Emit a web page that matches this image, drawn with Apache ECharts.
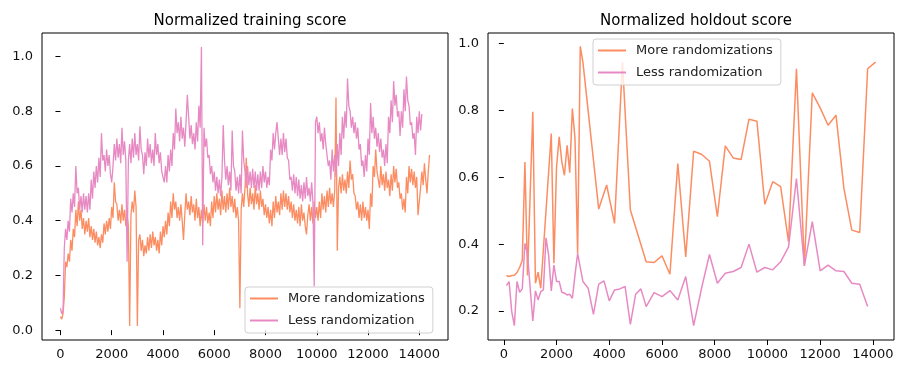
<!DOCTYPE html>
<html>
<head>
<meta charset="utf-8">
<script src="https://cdn.jsdelivr.net/npm/echarts@6/dist/echarts.min.js"></script>
<style>
html, body { margin: 0; padding: 0; background: #fff; }
#chart { width: 907px; height: 374px; }
</style>
</head>
<body>
<div id="chart"></div>
<script>
// names
const seriesNames = ["More randomizations", "Less randomization"];
const colors = ["#fc8d62", "#e78ac3"];

// training score, one value every 50 steps starting at 0
const trainStep = 50;
const trainMore = [
  0.05, 0.04, 0.06, 0.12, 0.25, 0.23, 0.28, 0.25, 0.33, 0.29, 0.37, 0.34, 0.44, 0.38, 0.47, 0.40, 0.44, 0.37, 0.41, 0.35,
  0.40, 0.36, 0.41, 0.34, 0.38, 0.33, 0.37, 0.32, 0.36, 0.31, 0.34, 0.30, 0.35, 0.32, 0.39, 0.35, 0.40, 0.36, 0.41, 0.37,
  0.45, 0.41, 0.54, 0.47, 0.46, 0.40, 0.44, 0.39, 0.46, 0.40, 0.44, 0.38, 0.42, 0.38, 0.015, 0.42, 0.47, 0.43, 0.51, 0.45,
  0.015, 0.33, 0.35, 0.29, 0.33, 0.27, 0.31, 0.28, 0.34, 0.29, 0.35, 0.30, 0.36, 0.31, 0.34, 0.29, 0.33, 0.28, 0.36, 0.31,
  0.38, 0.34, 0.40, 0.35, 0.43, 0.38, 0.47, 0.41, 0.50, 0.44, 0.47, 0.41, 0.45, 0.40, 0.46, 0.40, 0.33, 0.42, 0.50, 0.44,
  0.47, 0.42, 0.49, 0.43, 0.46, 0.40, 0.48, 0.41, 0.45, 0.38, 0.44, 0.39, 0.46, 0.40, 0.45, 0.39, 0.43, 0.38, 0.47, 0.41,
  0.49, 0.43, 0.50, 0.44, 0.48, 0.42, 0.51, 0.44, 0.49, 0.43, 0.50, 0.44, 0.52, 0.45, 0.49, 0.43, 0.48, 0.41, 0.45, 0.40,
  0.08, 0.44, 0.50, 0.45, 0.52, 0.63, 0.50, 0.45, 0.52, 0.46, 0.50, 0.44, 0.53, 0.46, 0.50, 0.44, 0.51, 0.45, 0.48, 0.42,
  0.46, 0.41, 0.45, 0.39, 0.44, 0.38, 0.47, 0.41, 0.49, 0.43, 0.47, 0.42, 0.50, 0.44, 0.51, 0.45, 0.50, 0.44, 0.49, 0.43,
  0.47, 0.41, 0.46, 0.40, 0.44, 0.39, 0.45, 0.38, 0.46, 0.40, 0.43, 0.38, 0.35, 0.42, 0.46, 0.40, 0.45, 0.39, 0.47, 0.41,
  0.45, 0.40, 0.47, 0.41, 0.50, 0.44, 0.49, 0.43, 0.51, 0.45, 0.52, 0.46, 0.50, 0.45, 0.51, 0.85, 0.29, 0.52, 0.56, 0.50,
  0.57, 0.51, 0.55, 0.50, 0.58, 0.52, 0.62, 0.55, 0.57, 0.50, 0.49, 0.44, 0.47, 0.41, 0.46, 0.40, 0.47, 0.41, 0.45, 0.40,
  0.44, 0.37, 0.50, 0.45, 0.60, 0.56, 0.66, 0.58, 0.58, 0.52, 0.60, 0.53, 0.57, 0.51, 0.58, 0.52, 0.55, 0.49, 0.57, 0.51,
  0.60, 0.54, 0.59, 0.52, 0.54, 0.48, 0.50, 0.44, 0.48, 0.43, 0.56, 0.50, 0.60, 0.54, 0.59, 0.53, 0.58, 0.52, 0.56, 0.42,
  0.42, 0.52, 0.58, 0.53, 0.61, 0.55, 0.50, 0.58, 0.64
];
const trainLess = [
  0.08, 0.06, 0.07, 0.30, 0.37, 0.33, 0.40, 0.36, 0.48, 0.43, 0.50, 0.45, 0.60, 0.50, 0.52, 0.44, 0.49, 0.43, 0.50, 0.44,
  0.49, 0.43, 0.50, 0.44, 0.55, 0.48, 0.58, 0.52, 0.60, 0.54, 0.63, 0.56, 0.72, 0.62, 0.64, 0.58, 0.66, 0.60, 0.64, 0.57,
  0.54, 0.60, 0.68, 0.62, 0.70, 0.63, 0.68, 0.61, 0.74, 0.64, 0.69, 0.62, 0.25, 0.62, 0.68, 0.61, 0.70, 0.63, 0.72, 0.64,
  0.68, 0.62, 0.745, 0.66, 0.64, 0.57, 0.65, 0.60, 0.70, 0.63, 0.68, 0.61, 0.66, 0.60, 0.72, 0.64, 0.68, 0.61, 0.65, 0.58,
  0.58, 0.54, 0.60, 0.54, 0.64, 0.58, 0.66, 0.60, 0.72, 0.66, 0.81, 0.72, 0.76, 0.69, 0.78, 0.70, 0.74, 0.67, 0.76, 0.86,
  0.78, 0.70, 0.75, 0.68, 0.72, 0.66, 0.76, 0.69, 0.82, 0.74, 1.035, 0.31, 0.74, 0.67, 0.70, 0.63, 0.64, 0.57, 0.60, 0.54,
  0.58, 0.51, 0.56, 0.50, 0.55, 0.49, 0.56, 0.75, 0.62, 0.55, 0.60, 0.53, 0.58, 0.51, 0.73, 0.60, 0.58, 0.51, 0.56, 0.50,
  0.57, 0.50, 0.73, 0.62, 0.58, 0.52, 0.60, 0.53, 0.58, 0.52, 0.59, 0.52, 0.58, 0.51, 0.57, 0.51, 0.58, 0.52, 0.60, 0.54,
  0.58, 0.52, 0.56, 0.53, 0.66, 0.62, 0.72, 0.66, 0.72, 0.76, 0.70, 0.64, 0.70, 0.64, 0.72, 0.65, 0.70, 0.63, 0.62, 0.55,
  0.56, 0.51, 0.57, 0.50, 0.56, 0.49, 0.55, 0.48, 0.53, 0.47, 0.54, 0.48, 0.56, 0.49, 0.52, 0.47, 0.54, 0.47, 0.16, 0.76,
  0.78, 0.72, 0.76, 0.69, 0.72, 0.66, 0.74, 0.68, 0.68, 0.60, 0.62, 0.55, 0.66, 0.58, 0.64, 0.56, 0.68, 0.60, 0.72, 0.64,
  0.78, 0.70, 0.80, 0.74, 0.92, 0.82, 0.80, 0.74, 0.78, 0.72, 0.76, 0.70, 0.74, 0.66, 0.68, 0.60, 0.62, 0.56, 0.64, 0.58,
  0.70, 0.64, 0.83, 0.72, 0.78, 0.70, 0.74, 0.67, 0.72, 0.65, 0.70, 0.63, 0.66, 0.60, 0.68, 0.61, 0.78, 0.72, 0.84, 0.76,
  0.91, 0.82, 0.86, 0.78, 0.80, 0.71, 0.80, 0.74, 0.88, 0.80, 0.927, 0.84, 0.82, 0.75, 0.76, 0.70, 0.72, 0.64, 0.78, 0.72,
  0.80, 0.73, 0.79
];

// holdout score
const holdMoreX = [
  100, 200, 300, 400, 500, 600, 700, 800, 900, 1100,
  1200, 1300, 1400, 1800, 1900, 2000, 2100, 2200, 2300, 2400,
  2500, 2600, 2700, 2800, 2900, 3000, 3600, 3900, 4200, 4500,
  4800, 5400, 5700, 6000, 6300, 6600, 6900, 7200, 7500, 7800,
  8100, 8400, 8700, 9000, 9300, 9600, 9900, 10200, 10500, 10800,
  11100, 11400, 11700, 12000, 12300, 12600, 12900, 13200, 13500, 13800,
  14100
];
const holdMore = [
  0.306, 0.303, 0.306, 0.307, 0.315, 0.33, 0.352, 0.646, 0.306, 0.796,
  0.283, 0.316, 0.268, 0.731, 0.343, 0.631, 0.721, 0.646, 0.606, 0.696,
  0.614, 0.806, 0.716, 0.372, 0.992, 0.945, 0.505, 0.577, 0.462, 0.945,
  0.502, 0.347, 0.345, 0.365, 0.31, 0.641, 0.362, 0.678, 0.669, 0.648,
  0.482, 0.694, 0.658, 0.653, 0.774, 0.768, 0.519, 0.587, 0.572, 0.407,
  0.925, 0.335, 0.853, 0.808, 0.756, 0.786, 0.567, 0.442, 0.435, 0.925,
  0.945
];
const holdLessX = [
  100, 200, 300, 400, 500, 600, 700, 800, 900, 1000,
  1100, 1200, 1300, 1400, 1500, 1600, 1700, 1800, 1900, 2000,
  2100, 2200, 2300, 2400, 2500, 2600, 2700, 2800, 3000, 3200,
  3400, 3600, 3800, 4000, 4200, 4400, 4600, 4800, 5000, 5200,
  5400, 5700, 6000, 6300, 6600, 6900, 7200, 7500, 7800, 8100,
  8400, 8700, 9000, 9300, 9600, 9900, 10200, 10500, 10800, 11100,
  11400, 11700, 12000, 12300, 12600, 12900, 13200, 13500, 13800
];
const holdLess = [
  0.276, 0.288, 0.198, 0.156, 0.288, 0.256, 0.266, 0.402, 0.372, 0.268,
  0.17, 0.26, 0.233, 0.258, 0.263, 0.419, 0.367, 0.26, 0.337, 0.288,
  0.288, 0.256, 0.253, 0.248, 0.25, 0.238, 0.308, 0.372, 0.288, 0.268,
  0.19, 0.28, 0.29, 0.23, 0.263, 0.266, 0.273, 0.16, 0.25, 0.266,
  0.213, 0.255, 0.243, 0.261, 0.233, 0.303, 0.156, 0.268, 0.369, 0.283,
  0.313, 0.318, 0.33, 0.40, 0.316, 0.33, 0.323, 0.347, 0.392, 0.596,
  0.335, 0.467, 0.32, 0.337, 0.32, 0.318, 0.283, 0.28, 0.213
];

// tick labels
const stepTicks = [0, 2000, 4000, 6000, 8000, 10000, 12000, 14000];
const trainScoreTicks = [0, 0.2, 0.4, 0.6, 0.8, 1.0];
const holdScoreTicks = [0.2, 0.4, 0.6, 0.8, 1.0];

const font = "DejaVu Sans";

function pairs(xs, ys) {
  return ys.map((v, i) => [xs[i], v]);
}
function stepPairs(ys) {
  return ys.map((v, i) => [i * trainStep, v]);
}

function xAxisFor(idx, min, max) {
  return {
    type: "value", gridIndex: idx, min: min, max: max,
    axisLine: { show: false },
    splitLine: { show: false },
    axisTick: { show: true, inside: false, length: 5, customValues: stepTicks,
      lineStyle: { color: "#000", width: 1 } },
    axisLabel: { customValues: stepTicks, margin: 8, color: "#111",
      fontFamily: font, fontSize: 13, formatter: v => String(v) }
  };
}
function yAxisFor(idx, min, max, ticks) {
  return {
    type: "value", gridIndex: idx, min: min, max: max,
    axisLine: { show: false },
    splitLine: { show: false },
    axisTick: { show: true, inside: false, length: 5, customValues: ticks,
      lineStyle: { color: "#000", width: 1 } },
    axisLabel: { customValues: ticks, margin: 9, color: "#111",
      fontFamily: font, fontSize: 13, formatter: v => v.toFixed(1) }
  };
}
function legendAt(left, top) {
  return {
    left: left, top: top, orient: "vertical",
    data: seriesNames,
    icon: "rect", itemWidth: 28, itemHeight: 2, itemGap: 7,
    padding: [4, 8, 5, 5],
    backgroundColor: "rgba(255,255,255,0.8)",
    borderColor: "#d0d0d0", borderWidth: 1, borderRadius: 3,
    textStyle: { fontFamily: font, fontSize: 13, color: "#222",
      lineHeight: 15, padding: [0, 0, 0, 5] }
  };
}
function lineSeries(name, color, data, idx, width) {
  return {
    name: name, type: "line", xAxisIndex: idx, yAxisIndex: idx,
    data: data, showSymbol: false, symbol: "none",
    lineStyle: { color: color, width: width },
    itemStyle: { color: color },
    sampling: null
  };
}

let myChart = echarts.init(document.getElementById("chart"), null, { renderer: "canvas" });
myChart.setOption({
  animation: false,
  backgroundColor: "#fff",
  title: [
    { text: "Normalized training score", left: 245, top: 9, textAlign: "center",
      textStyle: { fontFamily: font, fontSize: 15, fontWeight: "normal", color: "#000" } },
    { text: "Normalized holdout score", left: 691, top: 9, textAlign: "center",
      textStyle: { fontFamily: font, fontSize: 15, fontWeight: "normal", color: "#000" } }
  ],
  legend: [legendAt(245, 287), legendAt(593, 39)],
  grid: [
    { left: 42, top: 33, width: 406, height: 307, show: true, borderColor: "#000", borderWidth: 1 },
    { left: 488, top: 33, width: 406, height: 307, show: true, borderColor: "#000", borderWidth: 1 }
  ],
  xAxis: [xAxisFor(0, -720, 15120), xAxisFor(1, -600, 14800)],
  yAxis: [yAxisFor(0, -0.036, 1.086, trainScoreTicks), yAxisFor(1, 0.113, 1.032, holdScoreTicks)],
  series: [
    lineSeries(seriesNames[0], colors[0], stepPairs(trainMore), 0, 1.3),
    lineSeries(seriesNames[1], colors[1], stepPairs(trainLess), 0, 1.3),
    lineSeries(seriesNames[0], colors[0], pairs(holdMoreX, holdMore), 1, 1.5),
    lineSeries(seriesNames[1], colors[1], pairs(holdLessX, holdLess), 1, 1.5)
  ]
});
</script>
</body>
</html>
